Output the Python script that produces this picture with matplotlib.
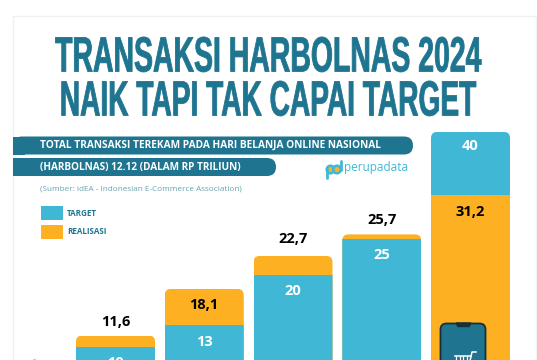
import matplotlib
matplotlib.use('Agg')
import matplotlib.pyplot as plt
from matplotlib.patches import FancyBboxPatch, Rectangle, Circle
from matplotlib.patheffects import AbstractPathEffect
from matplotlib.transforms import Affine2D

# Data (Rp trillion)
years = ['2020', '2021', '2022', '2023', '2024']
target = [10, 13, 20, 25, 40]
realisasi = [11.6, 18.1, 22.7, 25.7, 31.2]
target_labels = ['10', '13', '20', '25', '40']
realisasi_labels = ['11,6', '18,1', '22,7', '25,7', '31,2']

title_lines = ['TRANSAKSI HARBOLNAS 2024', 'NAIK TAPI TAK CAPAI TARGET']
banner_lines = ['TOTAL TRANSAKSI TEREKAM PADA HARI BELANJA ONLINE NASIONAL',
                '(HARBOLNAS) 12.12 (DALAM RP TRILIUN)']
source = '(Sumber: idEA - Indonesian E-Commerce Association)'
legend_names = ['TARGET', 'REALISASI']

TEAL = '#1f7590'
BLUE = '#40b8d5'
ORANGE = '#fdb021'
W, H = 537, 360


class Stretch(AbstractPathEffect):
    """Tall narrow glyphs, there is no condensed display font installed."""
    def __init__(self, cx, cy, sx, sy, lw):
        super().__init__()
        self.cx, self.cy, self.sx, self.sy, self.lw = cx, cy, sx, sy, lw

    def draw_path(self, renderer, gc, tpath, affine, rgbFace=None):
        extra = (Affine2D().translate(-self.cx, -self.cy)
                 .scale(self.sx, self.sy).translate(self.cx, self.cy))
        gc0 = renderer.new_gc()
        gc0.copy_properties(gc)
        gc0.set_linewidth(self.lw)
        gc0.set_foreground(rgbFace)
        renderer.draw_path(gc0, tpath, affine + extra, rgbFace)
        gc0.restore()


fig = plt.figure(figsize=(W / 100, H / 100), dpi=100, facecolor='white')

# pixel layer for the decoration, y runs downwards like in the picture
bg = fig.add_axes([0, 0, 1, 1])
bg.set_xlim(0, W)
bg.set_ylim(H, 0)
bg.axis('off')
bg.set_zorder(3)
bg.patch.set_alpha(0)

# card outline
bg.plot([13, 13], [16, H], color='#f0f0f0', lw=1)
bg.plot([13, 536], [16, 16], color='#f0f0f0', lw=1)
bg.plot([536, 536], [16, H], color='#f4f4f4', lw=1)

# title
for txt, base, sx in zip(title_lines, [71.5, 115.5], [0.93, 0.92]):
    bg.text(W / 2 - 1, base, txt, ha='center', va='baseline', color=TEAL, fontsize=22,
            family='Liberation Sans', fontweight='bold',
            path_effects=[Stretch(W / 2 - 1, H - base, sx, 1.62, 0.6)])

# banners, square on the left side
for (x1, y0, h) in [(413, 136.5, 18), (276, 158, 18)]:
    bar = FancyBboxPatch((13, y0), x1 - 13, h, boxstyle='round,pad=0,rounding_size=9',
                         fc=TEAL, ec='none', zorder=2)
    bg.add_patch(bar)
    bg.add_patch(Rectangle((13, y0), 12, h, fc=TEAL, ec='none', zorder=3))
bg.text(40, 145.5, banner_lines[0], color='white', fontsize=7.3, fontweight='bold',
        family='Open Sans', va='center', zorder=4)
bg.text(40, 167.5, banner_lines[1], color='white', fontsize=7.2, fontweight='bold',
        family='Open Sans', va='center', zorder=4)
bg.text(40, 189, source, color='#6ba3ae', fontsize=5.9, family='Open Sans', va='center')

# logo
bg.text(344, 167.5, 'perupadata', color=BLUE, fontsize=8.5, family='Open Sans', va='center')
for cx in [330.5, 337]:
    bg.add_patch(Circle((cx, 169.5), 3.8, fc=ORANGE, ec=BLUE, lw=1.8))
bg.plot([326.5, 326.5], [169, 177.5], color=BLUE, lw=2, solid_capstyle='round')
bg.plot([341, 341], [160.5, 170], color=BLUE, lw=2, solid_capstyle='round')

# legend
for name, col, y in zip(legend_names, [BLUE, ORANGE], [213, 232]):
    bg.add_patch(Rectangle((41, y - 7), 22, 14, fc=col, ec='none'))
    bg.text(67, y, name, color=TEAL, fontsize=5.8, fontweight='bold', family='Open Sans', va='center')

# bars: value 0 sits below the canvas, at y=418.7 px, 7.17 px per unit
PX_PER_UNIT = 7.17
BASE_PX = 418.7
ax = fig.add_axes([0, 0, 1, (H - 125) / H])
ax.patch.set_alpha(0)
ax.axis('off')
ax.set_ylim((BASE_PX - H) / PX_PER_UNIT, (BASE_PX - 125) / PX_PER_UNIT)
pos = list(range(len(years)))
step = 88.75
ax.set_xlim(-115.5 / step, (W - 115.5) / step)
width = 79 / step

for i in pos:
    top = max(target[i], realisasi[i])
    # the taller one is drawn first, then the shorter one on top of it
    if realisasi[i] >= target[i]:
        back, front = (realisasi[i], ORANGE), (target[i], BLUE)
    else:
        back, front = (target[i], BLUE), (realisasi[i], ORANGE)
    rects = ax.bar(i, back[0], width=width, color=back[1])
    rects2 = ax.bar(i, front[0], width=width, color=front[1])
    # round the upper corners: clip on a rounded box in data coordinates
    clip = FancyBboxPatch((i - width / 2, 0), width, top,
                          boxstyle='round,pad=0,rounding_size=0.07',
                          mutation_aspect=step / PX_PER_UNIT,
                          transform=ax.transData, fc='none', ec='none')
    ax.add_patch(clip)
    rects[0].set_clip_path(clip)
    rects2[0].set_clip_path(clip)

# labels, offset from the top of each segment
label_font = dict(family='Open Sans', fontweight='bold', ha='center', va='center')
target_off = [-2.2, -2.3, -2.2, -2.1, -2.0]
real_off = [1.9, -2.2, 2.4, 2.0, -2.4]
for i in pos:
    ax.text(i, target[i] + target_off[i], target_labels[i], color='white', fontsize=10.5, **label_font)
    ax.text(i, realisasi[i] + real_off[i], realisasi_labels[i], color='black', fontsize=10.5, **label_font)

# phone with the shopping cart
phone = FancyBboxPatch((440.5, 323.5), 45, 60, boxstyle='round,pad=0,rounding_size=6',
                       fc=TEAL, ec='#14303a', lw=1.3, zorder=5)
bg.add_patch(phone)
bg.fill([456, 471, 469, 458], [323, 323, 326.5, 326.5], color='#14303a', zorder=6)
bg.plot([476, 472, 470], [352, 352, 361], color='white', lw=1.1, zorder=6)
bg.plot([455, 471], [355.5, 355.5], color='white', lw=1.1, zorder=6)
for x in [456, 459.5, 463, 466.5]:
    bg.plot([x, x], [355.5, 361], color='white', lw=0.9, zorder=6)

# start of the mark cut off at the bottom left corner
bg.add_patch(Circle((34.5, 363), 3.6, fc='#9a9a9a', ec='none'))

fig.savefig('out.png', dpi=100)
